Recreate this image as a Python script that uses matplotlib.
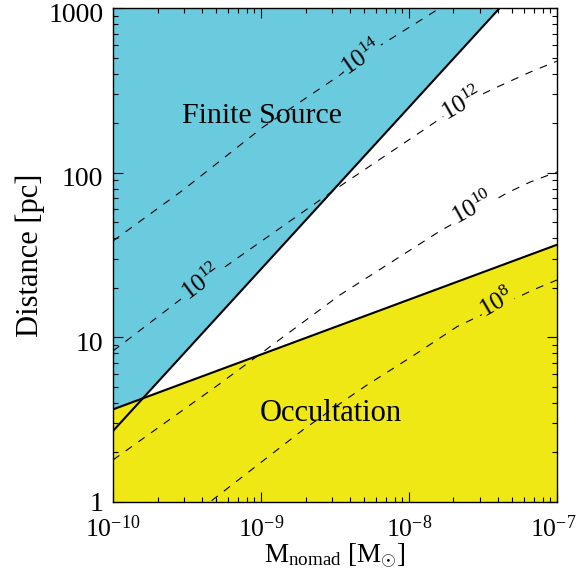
import numpy as np
import matplotlib
matplotlib.use("Agg")
import matplotlib.pyplot as plt
import matplotlib.transforms as mtransforms
from matplotlib.ticker import FixedLocator, FixedFormatter, LogLocator, NullFormatter

plt.rcParams["font.family"] = ["Liberation Serif", "DejaVu Serif"]
plt.rcParams["mathtext.fontset"] = "custom"
plt.rcParams["mathtext.rm"] = "Liberation Serif"
plt.rcParams["mathtext.it"] = "Liberation Serif:italic"
plt.rcParams["mathtext.bf"] = "Liberation Serif:bold"

# regime boundaries (mass in Msun, distance in pc)
bound_mass = [1e-10, 1e-7]
finite_source_dist = [2.7, 2400.0]   # D ~ M
occultation_dist = [3.65, 36.5]     # D ~ M^(1/3)

# dashed contours
c14_mass = [1e-10, 2.97e-10, 1.03e-9, 3.42e-9, 4.8e-9, 1.62e-8, 1.86e-8]
c14_dist = [38.5, 78.4, 189.0, 392.0, 504.0, 1000.0, 1100.0]

c12_mass = [1e-10, 4.0e-10, 2.24e-9, 3.27e-9, 1.19e-8, 2.28e-8, 3.94e-8, 6.58e-8, 1e-7]
c12_dist = [8.26, 21.4, 63.6, 80.6, 176.0, 262.0, 331.0, 408.0, 476.0]

c10_mass = [1e-10, 5.12e-10, 1.03e-9, 3.42e-9, 1.62e-8, 4.59e-8, 6.58e-8, 1e-7]
c10_dist = [1.80, 5.13, 8.15, 18.1, 44.2, 75.2, 87.7, 101.0]

c8_mass = [3.16e-10, 4.52e-10, 1.92e-9, 3.70e-9, 5.2e-9, 1.06e-8, 2.11e-8, 6.89e-8, 1e-7]
c8_dist = [0.78, 1.0, 2.74, 4.16, 5.13, 7.7, 11.6, 19.4, 22.3]

# contour labels: text, mass, distance, angle, background
contour_labels = [
    (r"10$^{14}$", 4.8e-9, 500.0, 35, "cyan"),
    (r"10$^{12}$", 4.0e-10, 21.4, 37, "cyan"),
    (r"10$^{12}$", 2.28e-8, 262.0, 30, "white"),
    (r"10$^{10}$", 2.7e-8, 61.0, 29, "white"),
    (r"10$^{8}$", 3.9e-8, 16.0, 30, "yellow"),
]

CYAN = "#6BCBDE"
YELLOW = "#F0E814"
bg_colors = {"cyan": CYAN, "white": "white", "yellow": YELLOW}

fig = plt.figure(figsize=(5.78, 5.76), dpi=100)
ax = fig.add_axes([0.1955, 0.1285, 0.768, 0.8575])
ax.set_xscale("log")
ax.set_yscale("log")
ax.set_xlim(1e-10, 1e-7)
ax.set_ylim(1, 1000)

ax.fill_between(bound_mass, finite_source_dist, [1e5, 1e5], color=CYAN, lw=0, zorder=1)
ax.fill_between(bound_mass, [1e-3, 1e-3], occultation_dist, color=YELLOW, lw=0, zorder=1.5)
ax.plot(bound_mass, finite_source_dist, color="black", lw=1.5, zorder=3)
ax.plot(bound_mass, occultation_dist, color="black", lw=1.5, zorder=3)

for m, d in [(c14_mass, c14_dist), (c12_mass, c12_dist), (c10_mass, c10_dist), (c8_mass, c8_dist)]:
    ax.plot(m, d, color="black", lw=0.8, dashes=(7, 7), zorder=2)

for txt, m, d, ang, bg in contour_labels:
    ax.text(m, d, txt, fontsize=18, rotation=ang, rotation_mode="anchor",
            ha="center", va="center", zorder=2.5,
            bbox=dict(facecolor=bg_colors[bg], edgecolor="none", pad=0.3))

ax.text(1.02e-9, 221, "Finite Source", fontsize=21.5, ha="center", va="center", zorder=4)
ax.text(2.97e-9, 3.47, "Occultation", fontsize=22, ha="center", va="center", zorder=4)

ax.xaxis.set_major_locator(FixedLocator([1e-10, 1e-9, 1e-8, 1e-7]))
ax.xaxis.set_major_formatter(FixedFormatter([r"10$^{-10}$", r"10$^{-9}$", r"10$^{-8}$", r"10$^{-7}$"]))
ax.xaxis.set_minor_locator(LogLocator(base=10, subs=np.arange(2, 10), numticks=20))
ax.xaxis.set_minor_formatter(NullFormatter())
ax.yaxis.set_major_locator(FixedLocator([1, 10, 100, 1000]))
ax.yaxis.set_major_formatter(FixedFormatter(["1", "10", "100", "1000"]))
ax.yaxis.set_minor_locator(LogLocator(base=10, subs=np.arange(2, 10), numticks=20))
ax.yaxis.set_minor_formatter(NullFormatter())

ax.tick_params(which="both", direction="in", top=True, right=True, width=0.8)
ax.tick_params(axis="x", labelsize=18.5, pad=10)
ax.tick_params(axis="y", labelsize=20, pad=7)
ax.tick_params(which="major", length=7)
ax.tick_params(which="minor", length=3.5)

# small nudges of tick labels, as in the original
def nudge(label, dx_px, dy_px):
    off = mtransforms.ScaledTranslation(dx_px / 100, dy_px / 100, fig.dpi_scale_trans)
    label.set_transform(label.get_transform() + off)

y_ticks = ax.yaxis.get_major_ticks()
for tick in y_ticks[1:]:
    nudge(tick.label1, 0, -4)
nudge(ax.xaxis.get_major_ticks()[-1].label1, -4, 0)

for s in ax.spines.values():
    s.set_linewidth(1.0)
    s.set_zorder(5)

ax.set_xlabel(r"M$_{\mathrm{nomad}}$ [M$_{\odot}$]", fontsize=19.5, labelpad=0)
ax.set_ylabel("Distance [pc]", fontsize=22, labelpad=2)

fig.savefig("out.png", dpi=100)
